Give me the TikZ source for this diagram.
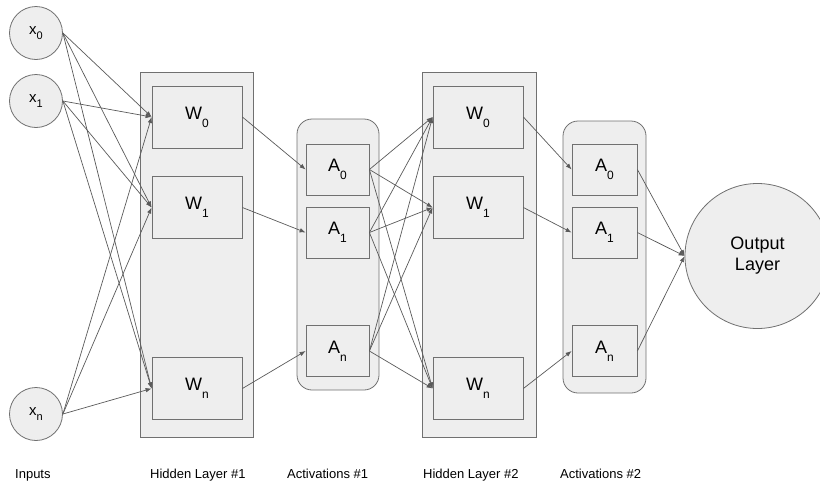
\documentclass[tikz,border=0pt]{standalone}
\usepackage{fontspec}
\setmainfont{Liberation Sans}
\usetikzlibrary{arrows.meta}
\definecolor{fillc}{HTML}{EEEEEE}
\definecolor{borderc}{HTML}{707070}
\definecolor{arrc}{HTML}{5A5A5A}
\newcommand{\lsub}[1]{\raisebox{-0.45em}{\fontsize{12}{12}\selectfont #1}}
\newcommand{\xsub}[1]{\raisebox{-0.35em}{\fontsize{11}{11}\selectfont #1}}
\tikzset{
  base/.style={draw=borderc, fill=fillc, line width=0.8pt, inner sep=0pt},
  layerbox/.style={base, minimum width=113pt, minimum height=365pt},
  actbox/.style={base, rounded corners=15pt, minimum width=82pt, minimum height=271pt},
  wbox/.style={base, minimum width=90pt, minimum height=62pt, font=\fontsize{18}{18}\selectfont},
  abox/.style={base, minimum width=63pt, minimum height=51pt, font=\fontsize{18}{18}\selectfont},
  inbox/.style={base, circle, minimum size=53pt, font=\fontsize{15}{15}\selectfont},
  outbox/.style={base, circle, minimum size=145pt, align=center, font=\fontsize{18}{21}\selectfont},
  arr/.style={draw=arrc, line width=0.7pt, -{Latex[length=6pt,width=4.5pt]}},
  lab/.style={anchor=base west, inner sep=0pt, font=\fontsize{13}{13}\selectfont}
}
\begin{document}
\begin{tikzpicture}[x=1pt,y=-1pt]
\useasboundingbox (0,0) rectangle (820,483);
\clip (0,0) rectangle (820,483);
% containers
\node[layerbox] (H1) at (196.5,254.5) {};
\node[actbox] (C1) at (338,254.5) {};
\node[layerbox, minimum width=114pt] (H2) at (479,254.5) {};
\node[actbox, minimum width=83pt, minimum height=272pt] (C2) at (604.5,257) {};
% inputs
\node[inbox] (x0) at (36,33) {x\xsub{0}};
\node[inbox] (x1) at (36,101) {x\xsub{1}};
\node[inbox] (xn) at (36,414) {x\xsub{n}};
% hidden layer 1
\node[wbox] (W0a) at (197,117) {W\lsub{0}};
\node[wbox] (W1a) at (197,207.5) {W\lsub{1}};
\node[wbox] (Wna) at (197,388.5) {W\lsub{n}};
% activations 1
\node[abox] (A0a) at (337.5,169.5) {A\lsub{0}};
\node[abox] (A1a) at (337.5,232.5) {A\lsub{1}};
\node[abox] (Ana) at (337.5,351) {A\lsub{n}};
% hidden layer 2
\node[wbox] (W0b) at (478,117) {W\lsub{0}};
\node[wbox] (W1b) at (478,207.5) {W\lsub{1}};
\node[wbox] (Wnb) at (478,388.5) {W\lsub{n}};
% activations 2
\node[abox, minimum width=65pt] (A0b) at (604.5,169.5) {A\lsub{0}};
\node[abox, minimum width=65pt] (A1b) at (604.5,232.5) {A\lsub{1}};
\node[abox, minimum width=65pt] (Anb) at (604.5,351) {A\lsub{n}};
% output
\node[outbox] (out) at (757.5,256) {Output\\Layer};
% connectors
\foreach \s in {x0,x1,xn}{
  \foreach \t in {W0a,W1a,Wna}{
    \draw[arr] (\s.east) -- (\t.west);
  }
}
\draw[arr] (W0a.east) -- (A0a.west);
\draw[arr] (W1a.east) -- (A1a.west);
\draw[arr] (Wna.east) -- (Ana.west);
\foreach \s in {A0a,A1a,Ana}{
  \foreach \t in {W0b,W1b,Wnb}{
    \draw[arr] (\s.east) -- (\t.west);
  }
}
\draw[arr] (W0b.east) -- (A0b.west);
\draw[arr] (W1b.east) -- (A1b.west);
\draw[arr] (Wnb.east) -- (Anb.west);
\foreach \s in {A0b,A1b,Anb}{
  \draw[arr] (\s.east) -- (out.west);
}
% labels
\node[lab] (l1) at (15,478) {Inputs};
\node[lab] (l2) at (150,478) {Hidden Layer \#1};
\node[lab] (l3) at (287,478) {Activations \#1};
\node[lab] (l4) at (423,478) {Hidden Layer \#2};
\node[lab] (l5) at (560,478) {Activations \#2};
\end{tikzpicture}
\end{document}
